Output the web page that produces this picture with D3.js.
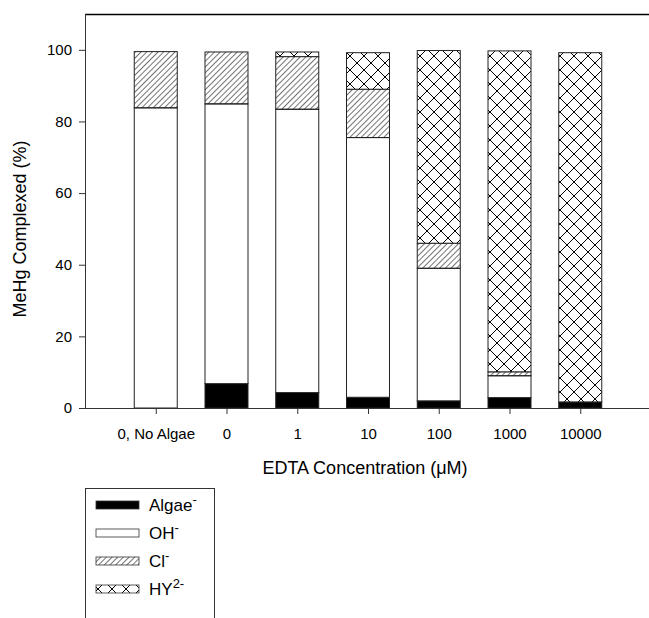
<!DOCTYPE html>
<html>
<head>
<meta charset="utf-8">
<script src="https://cdn.jsdelivr.net/npm/d3@7"></script>
<style>
    body { margin: 0; background: #fff; }
    svg { display: block; font-family: "Liberation Sans", Arial, sans-serif; }
</style>
</head>
<body>
<div id="chart"></div>
<script>
const categories = ['0, No Algae', '0', '1', '10', '100', '1000', '10000']
const algae = [0, 6.8, 4.3, 3.0, 2.0, 2.9, 1.7]
const oh = [83.8, 78.1, 79.1, 72.5, 37.0, 6.1, 0]
const cl = [15.7, 14.5, 14.7, 13.5, 7.0, 1.1, 0]
const hy = [0, 0, 1.3, 10.2, 53.8, 89.6, 97.5]
const yTicks = [0, 20, 40, 60, 80, 100]

const seriesKeys = ['algae', 'oh', 'cl', 'hy']
const fills = { algae: '#000', oh: '#fff', cl: 'url(#hatch)', hy: 'url(#cross)' }

const rows = categories.map((c, i) => ({ cat: c, algae: algae[i], oh: oh[i], cl: cl[i], hy: hy[i] }))
const stacked = d3.stack().keys(seriesKeys)(rows)

const W = 649, H = 618
const mLeft = 85, mTop = 14, mBottom = 408, mRight = 651

const svg = d3.select('#chart').append('svg')
    .attr('width', W)
    .attr('height', H)

const defs = svg.append('defs')
defs.append('pattern')
    .attr('id', 'hatch')
    .attr('patternUnits', 'userSpaceOnUse')
    .attr('width', 4)
    .attr('height', 4)
    .attr('patternTransform', 'rotate(45)')
  .append('line')
    .attr('x1', 0).attr('y1', 0)
    .attr('x2', 0).attr('y2', 4)
    .attr('stroke', '#000')
    .attr('stroke-width', 1.1)

const cross = defs.append('pattern')
    .attr('id', 'cross')
    .attr('patternUnits', 'userSpaceOnUse')
    .attr('width', 14)
    .attr('height', 14)
cross.append('rect').attr('width', 14).attr('height', 14).attr('fill', '#fff')
cross.append('path')
    .attr('d', 'M0,0L14,14M14,0L0,14')
    .attr('stroke', '#000')
    .attr('stroke-width', 1)
    .attr('fill', 'none')

const x = d3.scalePoint()
    .domain(categories)
    .range([mLeft, mRight])
    .padding(1)

const y = d3.scaleLinear()
    .domain([0, 110])
    .range([mBottom, mTop])

const barW = 43

// bars
svg.append('g')
    .selectAll('g')
    .data(stacked)
    .join('g')
    .attr('fill', (s) => fills[s.key])
    .selectAll('rect')
    .data((s) => s.filter((d) => d[1] - d[0] > 0))
    .join('rect')
        .attr('x', (d) => x(d.data.cat) - barW / 2)
        .attr('y', (d) => y(d[1]))
        .attr('width', barW)
        .attr('height', (d) => y(d[0]) - y(d[1]))
        .attr('stroke', '#222')
        .attr('stroke-width', 1)

// frame top line
svg.append('line')
    .attr('x1', mLeft).attr('x2', W)
    .attr('y1', mTop + 0.5).attr('y2', mTop + 0.5)
    .attr('stroke', '#000')
    .attr('stroke-width', 1.5)

// axes
const yAxis = svg.append('g')
    .attr('transform', `translate(${mLeft},0)`)
    .call(d3.axisLeft(y).tickValues(yTicks).tickSize(6).tickPadding(7))
yAxis.select('.domain').attr('d', `M0.5,${mTop}V${mBottom}`)

const xAxis = svg.append('g')
    .attr('transform', `translate(0,${mBottom})`)
    .call(d3.axisBottom(x).tickSize(6).tickPadding(14))
xAxis.select('.domain').attr('d', `M${mLeft},0.5H${W}`)

svg.selectAll('.tick text')
    .attr('font-size', 15)
    .attr('font-family', '"Liberation Sans", Arial, sans-serif')
    .attr('fill', '#000')
svg.selectAll('.domain, .tick line').attr('stroke', '#333')

// axis titles
svg.append('text')
    .attr('transform', `translate(26,${(mTop + mBottom) / 2 + 18}) rotate(-90)`)
    .attr('text-anchor', 'middle')
    .attr('font-size', 18)
    .text('MeHg Complexed (%)')

svg.append('text')
    .attr('x', 365)
    .attr('y', 474)
    .attr('text-anchor', 'middle')
    .attr('font-size', 18)
    .text('EDTA Concentration (μM)')

// legend
const legend = svg.append('g')
legend.append('rect')
    .attr('x', 85.5).attr('y', 488.5)
    .attr('width', 129).attr('height', 140)
    .attr('fill', 'none')
    .attr('stroke', '#333')

const legendItems = [
    { key: 'algae', base: 'Algae', sup: '-' },
    { key: 'oh', base: 'OH', sup: '-' },
    { key: 'cl', base: 'Cl', sup: '-' },
    { key: 'hy', base: 'HY', sup: '2-' },
]
const ly = d3.scalePoint().domain(legendItems.map((d) => d.key)).range([505, 589])

const li = legend.selectAll('g.item')
    .data(legendItems)
    .join('g')
    .attr('class', 'item')
    .attr('transform', (d) => `translate(0,${ly(d.key)})`)

li.append('rect')
    .attr('x', 96).attr('y', -4)
    .attr('width', 43).attr('height', 8)
    .attr('fill', (d) => fills[d.key])
    .attr('stroke', '#333')
    .attr('stroke-width', 0.8)

const lt = li.append('text')
    .attr('x', 149)
    .attr('y', 6)
    .attr('font-size', 17)
lt.append('tspan').text((d) => d.base)
lt.append('tspan')
    .attr('dy', -7)
    .attr('font-size', 13)
    .text((d) => d.sup)
</script>
</body>
</html>
